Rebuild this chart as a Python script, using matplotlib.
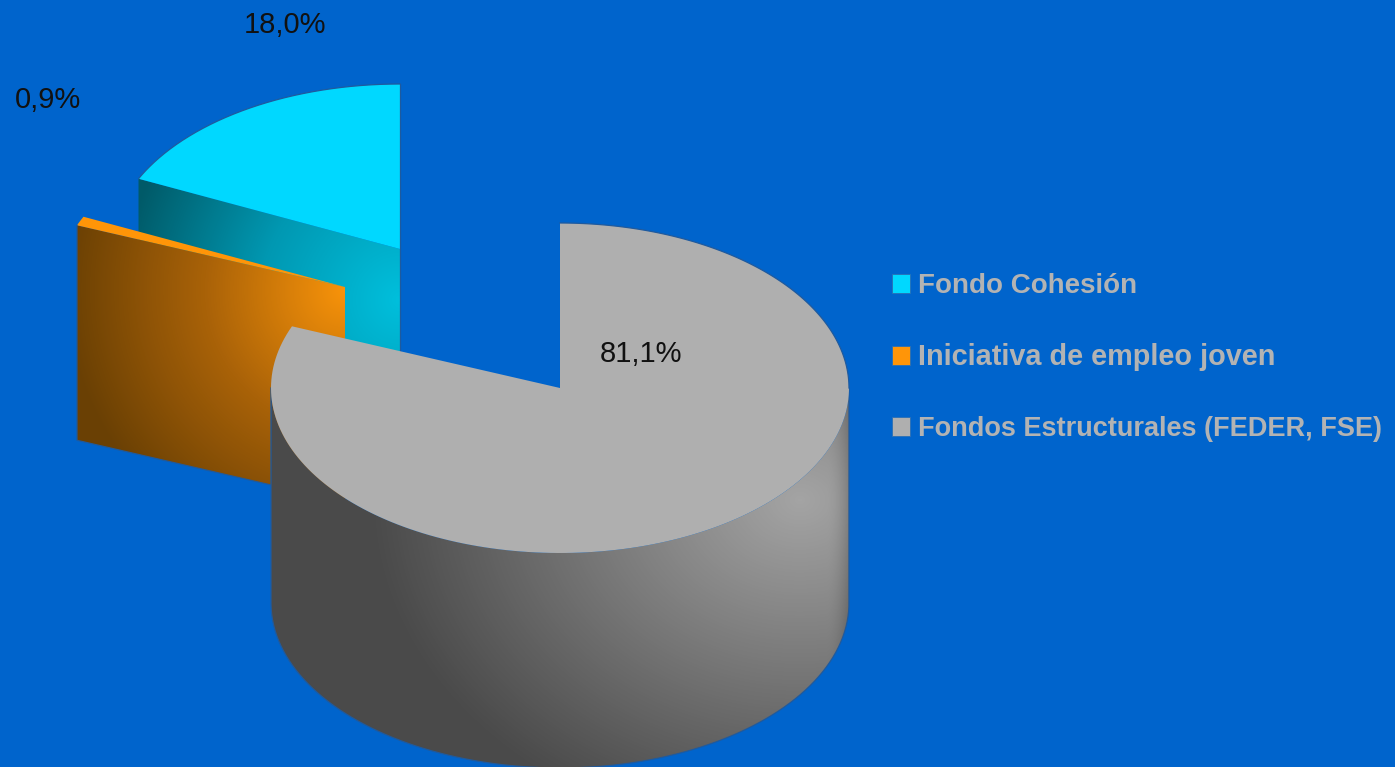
import numpy as np
import matplotlib.pyplot as plt
from matplotlib.colors import LinearSegmentedColormap
from matplotlib.patches import Polygon, Rectangle

categories = ['Fondo Cohesión', 'Iniciativa de empleo joven', 'Fondos Estructurales (FEDER, FSE)']
shares = [18.0, 0.9, 81.1]

bg = '#0064cc'
edge = '#1f5a9e'
top_colors = ['#00d8ff', '#ff9508', '#afafaf']
legend_text = '#b3b3b3'

rx, ry, depth = 289, 165, 215
# apex of each slice on the page, the small ones are pulled out of the pie
apex = [(400, 249), (345, 287), (560, 388)]
# clockwise from north, the pie starts with the last category
sweep = [s / sum(shares) * 360 for s in shares]
start_g = 0
start_o = start_g + sweep[2]
start_c = start_o + sweep[1]
spans = [(start_c, start_c + sweep[0]), (start_o, start_o + sweep[1]), (start_g, start_g + sweep[2])]

fig = plt.figure(figsize=(13.95, 7.67), dpi=100, facecolor=bg)
ax = fig.add_axes([0, 0, 1, 1])
ax.set_xlim(0, 1395)
ax.set_ylim(767, 0)
ax.axis('off')

xx, yy = np.meshgrid(np.arange(1395) + 0.5, np.arange(767) + 0.5)


def rim(c, a):
    a = np.radians(a)
    return np.column_stack([c[0] + rx * np.sin(a), c[1] - ry * np.cos(a)])


def top_poly(c, span):
    arc = rim(c, np.linspace(span[0], span[1], 200))
    return np.vstack([[c], arc])


def shaded(poly, values, colors, z):
    cmap = LinearSegmentedColormap.from_list('wall', colors)
    im = ax.imshow(values, cmap=cmap, vmin=0, vmax=1, extent=(0, 1395, 767, 0),
                   aspect='auto', interpolation='bilinear', zorder=z)
    p = Polygon(poly, closed=True, transform=ax.transData, fill=False, edgecolor='none')
    ax.add_patch(p)
    im.set_clip_path(p)


def outline(pts, z):
    pts = np.asarray(pts)
    ax.plot(pts[:, 0], pts[:, 1], color=edge, linewidth=0.9, zorder=z)


# cyan slice
c = apex[0]
r = rim(c, [spans[0][0]])[0]
wall = [r, c, (c[0], c[1] + depth), (r[0], r[1] + depth)]
t = np.clip(np.hypot(xx - 400, yy - 300) / 280, 0, 1)
shaded(wall, t, ['#00bfdc', '#0098b2', '#005a68'], 1)
ax.add_patch(Polygon(top_poly(c, spans[0]), closed=True, facecolor=top_colors[0], edgecolor='none', zorder=2))
outline(rim(c, np.linspace(spans[0][0], spans[0][1], 200)), 2.1)
outline([(c[0], c[1] - ry), (c[0], c[1] + depth)], 2.1)

# orange slice
c = apex[1]
r = rim(c, [spans[1][0]])[0]
wall = [r, c, (c[0], c[1] + depth), (r[0], r[1] + depth)]
t = np.clip(np.hypot(xx - 345, yy - 290) / 280, 0, 1)
shaded(wall, t, ['#f8930a', '#a96208', '#6a4004'], 3)
ax.add_patch(Polygon(top_poly(c, spans[1]), closed=True, facecolor=top_colors[1], edgecolor='none', zorder=4))
outline([r, (r[0], r[1] + depth), (c[0], c[1] + depth)], 4.1)

# grey slice
c = apex[2]
front = rim(c, np.linspace(90, 270, 300))
wall = np.vstack([front, (front + [0, depth])[::-1]])
t = np.clip(np.hypot(xx - 800, (yy - 500) * 1.25) / 430, 0, 1)
right_edge = np.clip((xx - 826) / 23, 0, 1)
t = np.clip(t + 0.3 * right_edge ** 2, 0, 1)
shaded(wall, t, ['#a4a4a4', '#4a4a4a'], 5)
outline(np.vstack([front[:1], front + [0, depth], front[-1:]]), 5.1)
ax.add_patch(Polygon(top_poly(c, spans[2]), closed=True, facecolor=top_colors[2], edgecolor='none', zorder=6))
outline(rim(c, np.linspace(0, 90, 100)), 6.1)

# value labels
label_font = ['Liberation Sans', 'DejaVu Sans']
label_pos = [(285, 33), (48, 108), (641, 362)]
for s, (x, y) in zip(shares, label_pos):
    ax.text(x, y, f'{s:.1f}%'.replace('.', ','), family=label_font, fontsize=21, color='#111111',
            ha='center', va='baseline', zorder=8)

# legend
legend_y = [293, 365, 436]
legend_size = [20, 20.8, 19.5]
for name, col, y, fs in zip(categories, top_colors, legend_y, legend_size):
    ax.add_patch(Rectangle((892, y - 19), 18, 19, facecolor=col, edgecolor='#2a6fb5', linewidth=0.6, zorder=8))
    ax.text(918, y, name, family=label_font, fontsize=fs, fontweight='bold',
            color=legend_text, ha='left', va='baseline', zorder=8)

fig.savefig('out.png', dpi=100, facecolor=bg)
